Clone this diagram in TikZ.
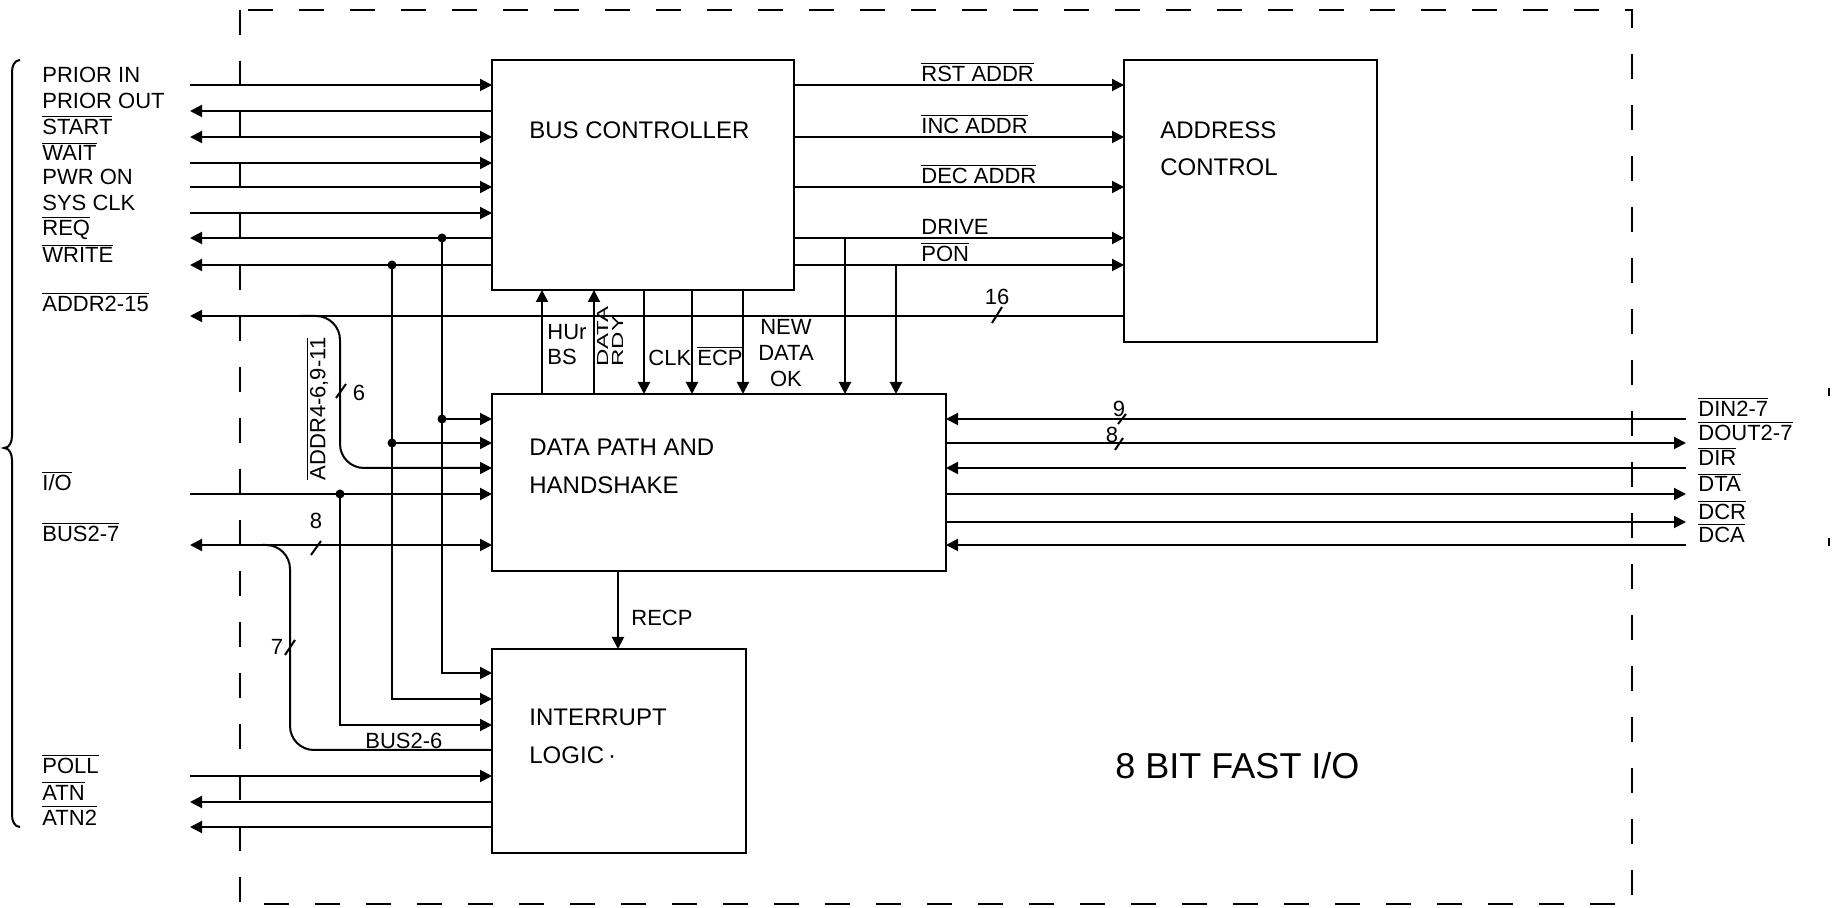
\documentclass[tikz,border=0pt]{standalone}
\usepackage{fontspec}
\setmainfont{Liberation Sans}
\usetikzlibrary{arrows.meta}
\newcommand{\ovl}[1]{$\overline{\mbox{#1}}$}
\begin{document}
\begin{tikzpicture}[x=0.5pt,y=-0.5pt,
 >={Triangle[length=6pt,width=6pt]},
 box/.style={draw,line width=1.3pt,inner sep=0pt,outer sep=0pt},
 sig/.style={line width=1pt},
 lab/.style={font=\fontsize{11}{12}\selectfont,inner sep=0pt,anchor=base west},
 blab/.style={font=\fontsize{12}{19}\selectfont,inner sep=0pt,align=left,anchor=west},
 jdot/.style={circle,fill,inner sep=0pt,minimum size=4.5pt},
 brd/.style={line width=1.3pt,dash pattern=on 12.5pt off 13pt},
 num/.style={font=\fontsize{11}{12}\selectfont,inner sep=0pt}]
\fill[white] (0,0) rectangle (1832,908);
\useasboundingbox (0,0) rectangle (1832,908);

% outer dashed frame
\draw[brd] (240,10) rectangle (1632,904);

% left brace
\draw[line width=1pt] (20,60) to[out=180,in=90] (12,72) -- (12,436) to[out=270,in=0] (4,448) to[out=0,in=90] (12,460) -- (12,815) to[out=270,in=180] (20,827);
% small ticks at right edge
\draw[line width=0.8pt] (1829,388) -- (1829,396);
\draw[line width=0.8pt] (1829,538) -- (1829,546);

% blocks
\node[box,minimum width=151pt,minimum height=115pt] (bc) at (643,175) {};
\node[box,minimum width=126.5pt,minimum height=141pt] (ac) at (1250.5,201) {};
\node[box,minimum width=227pt,minimum height=88.5pt] (dp) at (719,482.5) {};
\node[box,minimum width=127pt,minimum height=102pt] (il) at (619,751) {};

\node[blab] (bcT) at (529,130) {BUS CONTROLLER};
\node[blab,font=\fontsize{12}{18.5}\selectfont] (acT) at (1160,148.5) {ADDRESS\\CONTROL};
\node[blab] (dpT) at (529,466.5) {DATA PATH AND\\HANDSHAKE};
\node[blab] (ilT) at (529,736.5) {INTERRUPT\\LOGIC\,·};
\node[font=\fontsize{18}{20}\selectfont,anchor=west,inner sep=0pt] (title) at (1115,766) {8 BIT FAST I/O};

% levels and columns
\foreach \n/\y in {h1/85,h2/111,h3/137,h4/163,h5/187,h6/213,h7/238,h8/265,h9/316,d1/419,d2/443,d3/468,d4/494,d5/522,d6/545,i1/673,i2/699,i3/725,i4/750,i5/776,i6/802,i7/827}
  \coordinate (\n) at (0,\y);
\foreach \n/\x in {v1/542,v2/594,v3/644,v4/692,v5/743,v6/845,v7/896,vr/618,t1/442,t2/392,t3/340,tb/290,lx/190,rx/1686}
  \coordinate (\n) at (\x,0);

% left side to bus controller
\draw[sig,->] (lx|-h1) -- (bc.west|-h1);
\draw[sig,<-] (lx|-h2) -- (bc.west|-h2);
\draw[sig,<->] (lx|-h3) -- (bc.west|-h3);
\draw[sig,->] (lx|-h4) -- (bc.west|-h4);
\draw[sig,->] (lx|-h5) -- (bc.west|-h5);
\draw[sig,->] (lx|-h6) -- (bc.west|-h6);
\draw[sig,<-] (lx|-h7) -- (bc.west|-h7);
\draw[sig,<-] (lx|-h8) -- (bc.west|-h8);
\draw[sig,<-] (lx|-h9) -- (ac.west|-h9);

% bus controller to address control
\draw[sig,->] (bc.east|-h1) -- (ac.west|-h1);
\draw[sig,->] (bc.east|-h3) -- (ac.west|-h3);
\draw[sig,->] (bc.east|-h5) -- (ac.west|-h5);
\draw[sig,->] (bc.east|-h7) -- (ac.west|-h7);
\draw[sig,->] (bc.east|-h8) -- (ac.west|-h8);

% between bus controller and data path
\draw[sig,->] (dp.north-|v1) -- (bc.south-|v1);
\draw[sig,->] (dp.north-|v2) -- (bc.south-|v2);
\draw[sig,->] (bc.south-|v3) -- (dp.north-|v3);
\draw[sig,->] (bc.south-|v4) -- (dp.north-|v4);
\draw[sig,->] (bc.south-|v5) -- (dp.north-|v5);
\draw[sig,->] (v6|-h7) -- (dp.north-|v6);
\draw[sig,->] (v7|-h8) -- (dp.north-|v7);
\draw[sig,->] (dp.south-|vr) -- (il.north-|vr);

% taps
\coordinate (j1) at (t1|-h7);
\coordinate (j2) at (t2|-h8);
\coordinate (j3) at (t3|-d4);
\draw[sig,->] (j1) |- (il.west|-i1);
\draw[sig,->] (t1|-d1) -- (dp.west|-d1);
\draw[sig,->] (j2) |- (il.west|-i2);
\draw[sig,->] (t2|-d2) -- (dp.west|-d2);
\draw[sig,->] (j3) |- (il.west|-i3);
\node[jdot] (k1) at (j1) {};
\node[jdot] (k2) at (j2) {};
\node[jdot] (k3) at (j3) {};
\node[jdot] (k4) at (t1|-d1) {};
\node[jdot] (k5) at (t2|-d2) {};

% address branch
\coordinate (ab) at (300,316);
\draw[sig,->,rounded corners=12pt] (ab) -| (t3|-d3) -- (dp.west|-d3);
% I/O and bus
\draw[sig,->] (lx|-d4) -- (dp.west|-d4);
\draw[sig,<->] (lx|-d6) -- (dp.west|-d6);
\coordinate (bb) at (262,545);
\draw[sig,rounded corners=12pt] (bb) -| (tb|-i4) -- (il.west|-i4);
% interrupt inputs
\draw[sig,->] (lx|-i5) -- (il.west|-i5);
\draw[sig,<-] (lx|-i6) -- (il.west|-i6);
\draw[sig,<-] (lx|-i7) -- (il.west|-i7);

% right side
\draw[sig,<-] (dp.east|-d1) -- (rx|-d1);
\draw[sig,->] (dp.east|-d2) -- (rx|-d2);
\draw[sig,<-] (dp.east|-d3) -- (rx|-d3);
\draw[sig,->] (dp.east|-d4) -- (rx|-d4);
\draw[sig,->] (dp.east|-d5) -- (rx|-d5);
\draw[sig,<-] (dp.east|-d6) -- (rx|-d6);

% bus width slashes
\draw[sig] (992,323) -- (1002,307);
\draw[sig] (336,398) -- (346,384);
\draw[sig] (311,555) -- (321,541);
\draw[sig] (285,655) -- (295,640);
\draw[sig] (1118,424) -- (1126,414);
\draw[sig] (1115,450) -- (1123,438);
\node[num] (n16) at (997,297) {16};
\node[num] (n6) at (359,393) {6};
\node[num] (n8a) at (316,521) {8};
\node[num] (n7) at (277,647) {7};
\node[num] (n9) at (1119,409) {9};
\node[num] (n8b) at (1112,435) {8};

% left labels
\node[lab] (lPI) at (42,83) {PRIOR IN};
\node[lab] (lPO) at (42,109) {PRIOR OUT};
\node[lab] (lST) at (42,135) {\ovl{START}};
\node[lab] (lWT) at (42,161) {\ovl{WAIT}};
\node[lab] (lPW) at (42,185) {PWR ON};
\node[lab] (lSC) at (42,211) {SYS CLK};
\node[lab] (lRQ) at (42,236) {\ovl{REQ}};
\node[lab] (lWR) at (42,263) {\ovl{WRITE}};
\node[lab] (lAD) at (42,312) {\ovl{ADDR2-15}};
\node[lab] (lIO) at (42,491) {\ovl{I/O}};
\node[lab] (lBU) at (42,542) {\ovl{BUS2-7}};
\node[lab] (lPL) at (42,774) {\ovl{POLL}};
\node[lab] (lAT) at (42,800) {\ovl{ATN}};
\node[lab] (lA2) at (42,825) {\ovl{ATN2}};

% bus controller output labels
\node[lab] (lRST) at (921,82) {\ovl{RST ADDR}};
\node[lab] (lINC) at (921,134) {\ovl{INC ADDR}};
\node[lab] (lDEC) at (921,184) {\ovl{DEC ADDR}};
\node[lab] (lDRV) at (921,235) {DRIVE};
\node[lab] (lPON) at (921,262) {\ovl{PON}};

% vertical signal labels
\node[lab,anchor=west,align=left,font=\fontsize{11}{12.5}\selectfont] (lHB) at (547,345) {HUr\\BS};
\node[inner sep=0pt,anchor=west,align=left,rotate=90,font=\fontsize{8}{7.5}\selectfont] (lDR) at (610,367) {\scalebox{1.5}[1]{DATA}\\\scalebox{1.5}[1]{RDY}};
\node[lab] (lCLK) at (648,366) {CLK};
\node[lab] (lECP) at (697,366) {\ovl{ECP}};
\node[num,align=center,font=\fontsize{11}{13}\selectfont] (lNDO) at (786,353) {NEW\\DATA\\OK};
\node[lab] (lRECP) at (631,626) {RECP};
\node[lab,anchor=center,rotate=90] (lA46) at (317,409) {\ovl{ADDR4-6,9-11}};
\node[lab] (lB26) at (365,748) {BUS2-6};

% right labels
\node[lab] (rDIN) at (1698,417) {\ovl{DIN2-7}};
\node[lab] (rDOUT) at (1698,441) {\ovl{DOUT2-7}};
\node[lab] (rDIR) at (1698,466) {\ovl{DIR}};
\node[lab] (rDTA) at (1698,492) {\ovl{DTA}};
\node[lab] (rDCR) at (1698,520) {\ovl{DCR}};
\node[lab] (rDCA) at (1698,543) {\ovl{DCA}};
\end{tikzpicture}
\end{document}
